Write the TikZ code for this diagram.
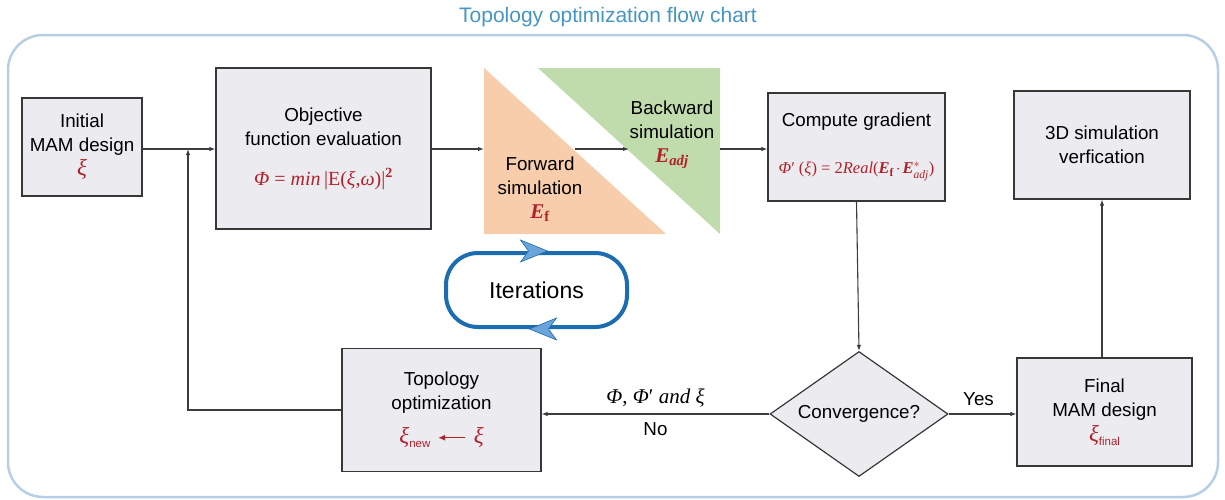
\documentclass[tikz,border=0pt]{standalone}
\usepackage{amsmath}
\usepackage{fontspec}
\setmainfont{Liberation Sans}
\newfontfamily\frm{Liberation Serif}
\usetikzlibrary{shapes.geometric,arrows.meta}
\definecolor{boxgray}{RGB}{236,236,240}
\definecolor{boxline}{RGB}{55,55,55}
\definecolor{fred}{RGB}{178,32,44}
\definecolor{orangetri}{RGB}{248,205,172}
\definecolor{greentri}{RGB}{192,220,172}
\definecolor{framecol}{RGB}{182,207,230}
\definecolor{titlecol}{RGB}{70,150,195}
\definecolor{itblue}{RGB}{28,108,178}
\definecolor{itarrow}{RGB}{105,165,218}
\definecolor{conline}{RGB}{60,60,60}
\newcommand{\bE}{\textbf{\textit{E}}}
\tikzset{
  boxnode/.style={draw=boxline, fill=boxgray, line width=1.2pt, inner sep=0pt,
    align=center, font=\fontsize{18.8}{24}\selectfont},
  plaintxt/.style={inner sep=0pt, align=center, font=\fontsize{18.8}{24}\selectfont},
  arr/.style={draw=conline, line width=1.1pt, -{Latex[length=6pt,width=4.5pt]}},
}
\begin{document}
\begin{tikzpicture}[x=1pt,y=-1pt]
\useasboundingbox (0,0) rectangle (1225,499);
% frame and title
\draw[framecol, line width=2.5pt, rounded corners=35pt] (8,35) rectangle (1218,497);
\node[font=\fontsize{21}{24}\selectfont, text=titlecol, inner sep=0pt] (title) at (608,17) {Topology optimization flow chart};

% boxes
\node[boxnode, minimum width=120pt, minimum height=98pt] (init) at (82,147)
  {Initial\\MAM design\\\textcolor{fred}{\frm\fontsize{23}{24}\selectfont\textit{ξ}}};
\node[boxnode, minimum width=215pt, minimum height=161pt] (obj) at (323.5,148.5)
  {Objective\\function evaluation\\[16pt]\textcolor{fred}{\frm\fontsize{20}{22}\selectfont\textit{Φ} = \textit{min}\,|E(\textit{ξ},\textit{ω})|\textsuperscript{\textbf{2}}}};
\node[boxnode, minimum width=177pt, minimum height=108pt] (grad) at (856.5,147)
  {Compute gradient\\[23pt]\textcolor{fred}{\frm\fontsize{16.5}{20}\selectfont\textit{Φ}′ (\textit{ξ}) = 2\textit{Real}($\bE_{\textbf{f}}\mkern-2mu\cdot\mkern-2mu\bE^{*}_{\textit{adj}}$)}};
\node[boxnode, minimum width=176pt, minimum height=108pt] (ver) at (1102,145)
  {3D simulation\\verfication};
\node[boxnode, minimum width=199pt, minimum height=123pt] (topo) at (441.5,410)
  {Topology\\optimization\\[10pt]\textcolor{fred}{{\frm\fontsize{23}{24}\selectfont\textit{ξ}}\raisebox{-4pt}{\fontsize{11.5}{14}\selectfont new}\hspace{7pt}\tikz[baseline=-6pt]\draw[fred, line width=1.4pt, -{Latex[length=7pt,width=6pt]}] (0,0) -- (-27pt,0);\hspace{8pt}{\frm\fontsize{23}{24}\selectfont\textit{ξ}}}};
\node[boxnode, minimum width=175pt, minimum height=108pt] (final) at (1104.5,412)
  {Final\\MAM design\\[1pt]\textcolor{fred}{{\frm\fontsize{23}{24}\selectfont\textit{ξ}}\raisebox{-4pt}{\fontsize{11.5}{14}\selectfont final}}};
\node[boxnode, diamond, aspect=1.424, minimum width=178pt, minimum height=125pt] (conv) at (859,414)
  {Convergence?};

% triangles
\fill[orangetri] (484,68) -- (484,234) -- (666,234) -- cycle;
\fill[greentri] (538,68) -- (720,68) -- (720,234) -- cycle;
\node[plaintxt] (fwdtxt) at (540,189)
  {Forward\\simulation\\[0pt]\textcolor{fred}{\frm\fontsize{21}{22}\selectfont$\bE_{\textbf{f}}$}};
\node[plaintxt] (bwdtxt) at (672,135)
  {Backward\\simulation\\[0pt]\textcolor{fred}{\frm\fontsize{21}{22}\selectfont$\bE_{\textbf{\textit{adj}}}$}};
\coordinate (j) at (188,149);
\coordinate (fwdin) at (484,149);
\coordinate (fwdout) at (575,149);
\coordinate (bwdin) at (629,149);
\coordinate (bwdout) at (720,149);

% iterations
\node[draw=itblue, line width=4pt, rounded corners=32pt, minimum width=181pt, minimum height=74pt,
  font=\fontsize{23}{26}\selectfont] (iter) at (536.5,290) {Iterations};
\fill[itarrow, draw=itblue, line width=0.6pt] ([xshift=11pt]iter.north) -- ++(-27,-11) -- ++(8,11) -- ++(-8,11) -- cycle;
\fill[itarrow, draw=itblue, line width=0.6pt] ([xshift=-7pt]iter.south) -- ++(27,-11) -- ++(-8,11) -- ++(8,11) -- cycle;

% connectors
\draw[arr] (init.east |- j) -- (obj.west |- j);
\draw[arr] (topo.west) -| (j);
\draw[arr] (obj.east |- j) -- (fwdin);
\draw[arr] (fwdout) -- (bwdin);
\draw[arr] (bwdout) -- (grad.west |- j);
\draw[arr] (grad.south) -- (conv.north);
\draw[arr] (conv.west) -- node[midway, above=3pt, font=\frm\fontsize{21}{22}\selectfont]{\textit{Φ}, \textit{Φ}′ \textit{and ξ}}
  node[midway, below=5pt, font=\fontsize{18.8}{22}\selectfont]{No} (conv.west -| topo.east);
\draw[arr] (conv.east) -- node[midway, above=4pt, xshift=-4pt, font=\fontsize{18.8}{22}\selectfont]{Yes} (conv.east -| final.west);
\draw[arr] (ver.south |- final.north) -- (ver.south);
\end{tikzpicture}
\end{document}
